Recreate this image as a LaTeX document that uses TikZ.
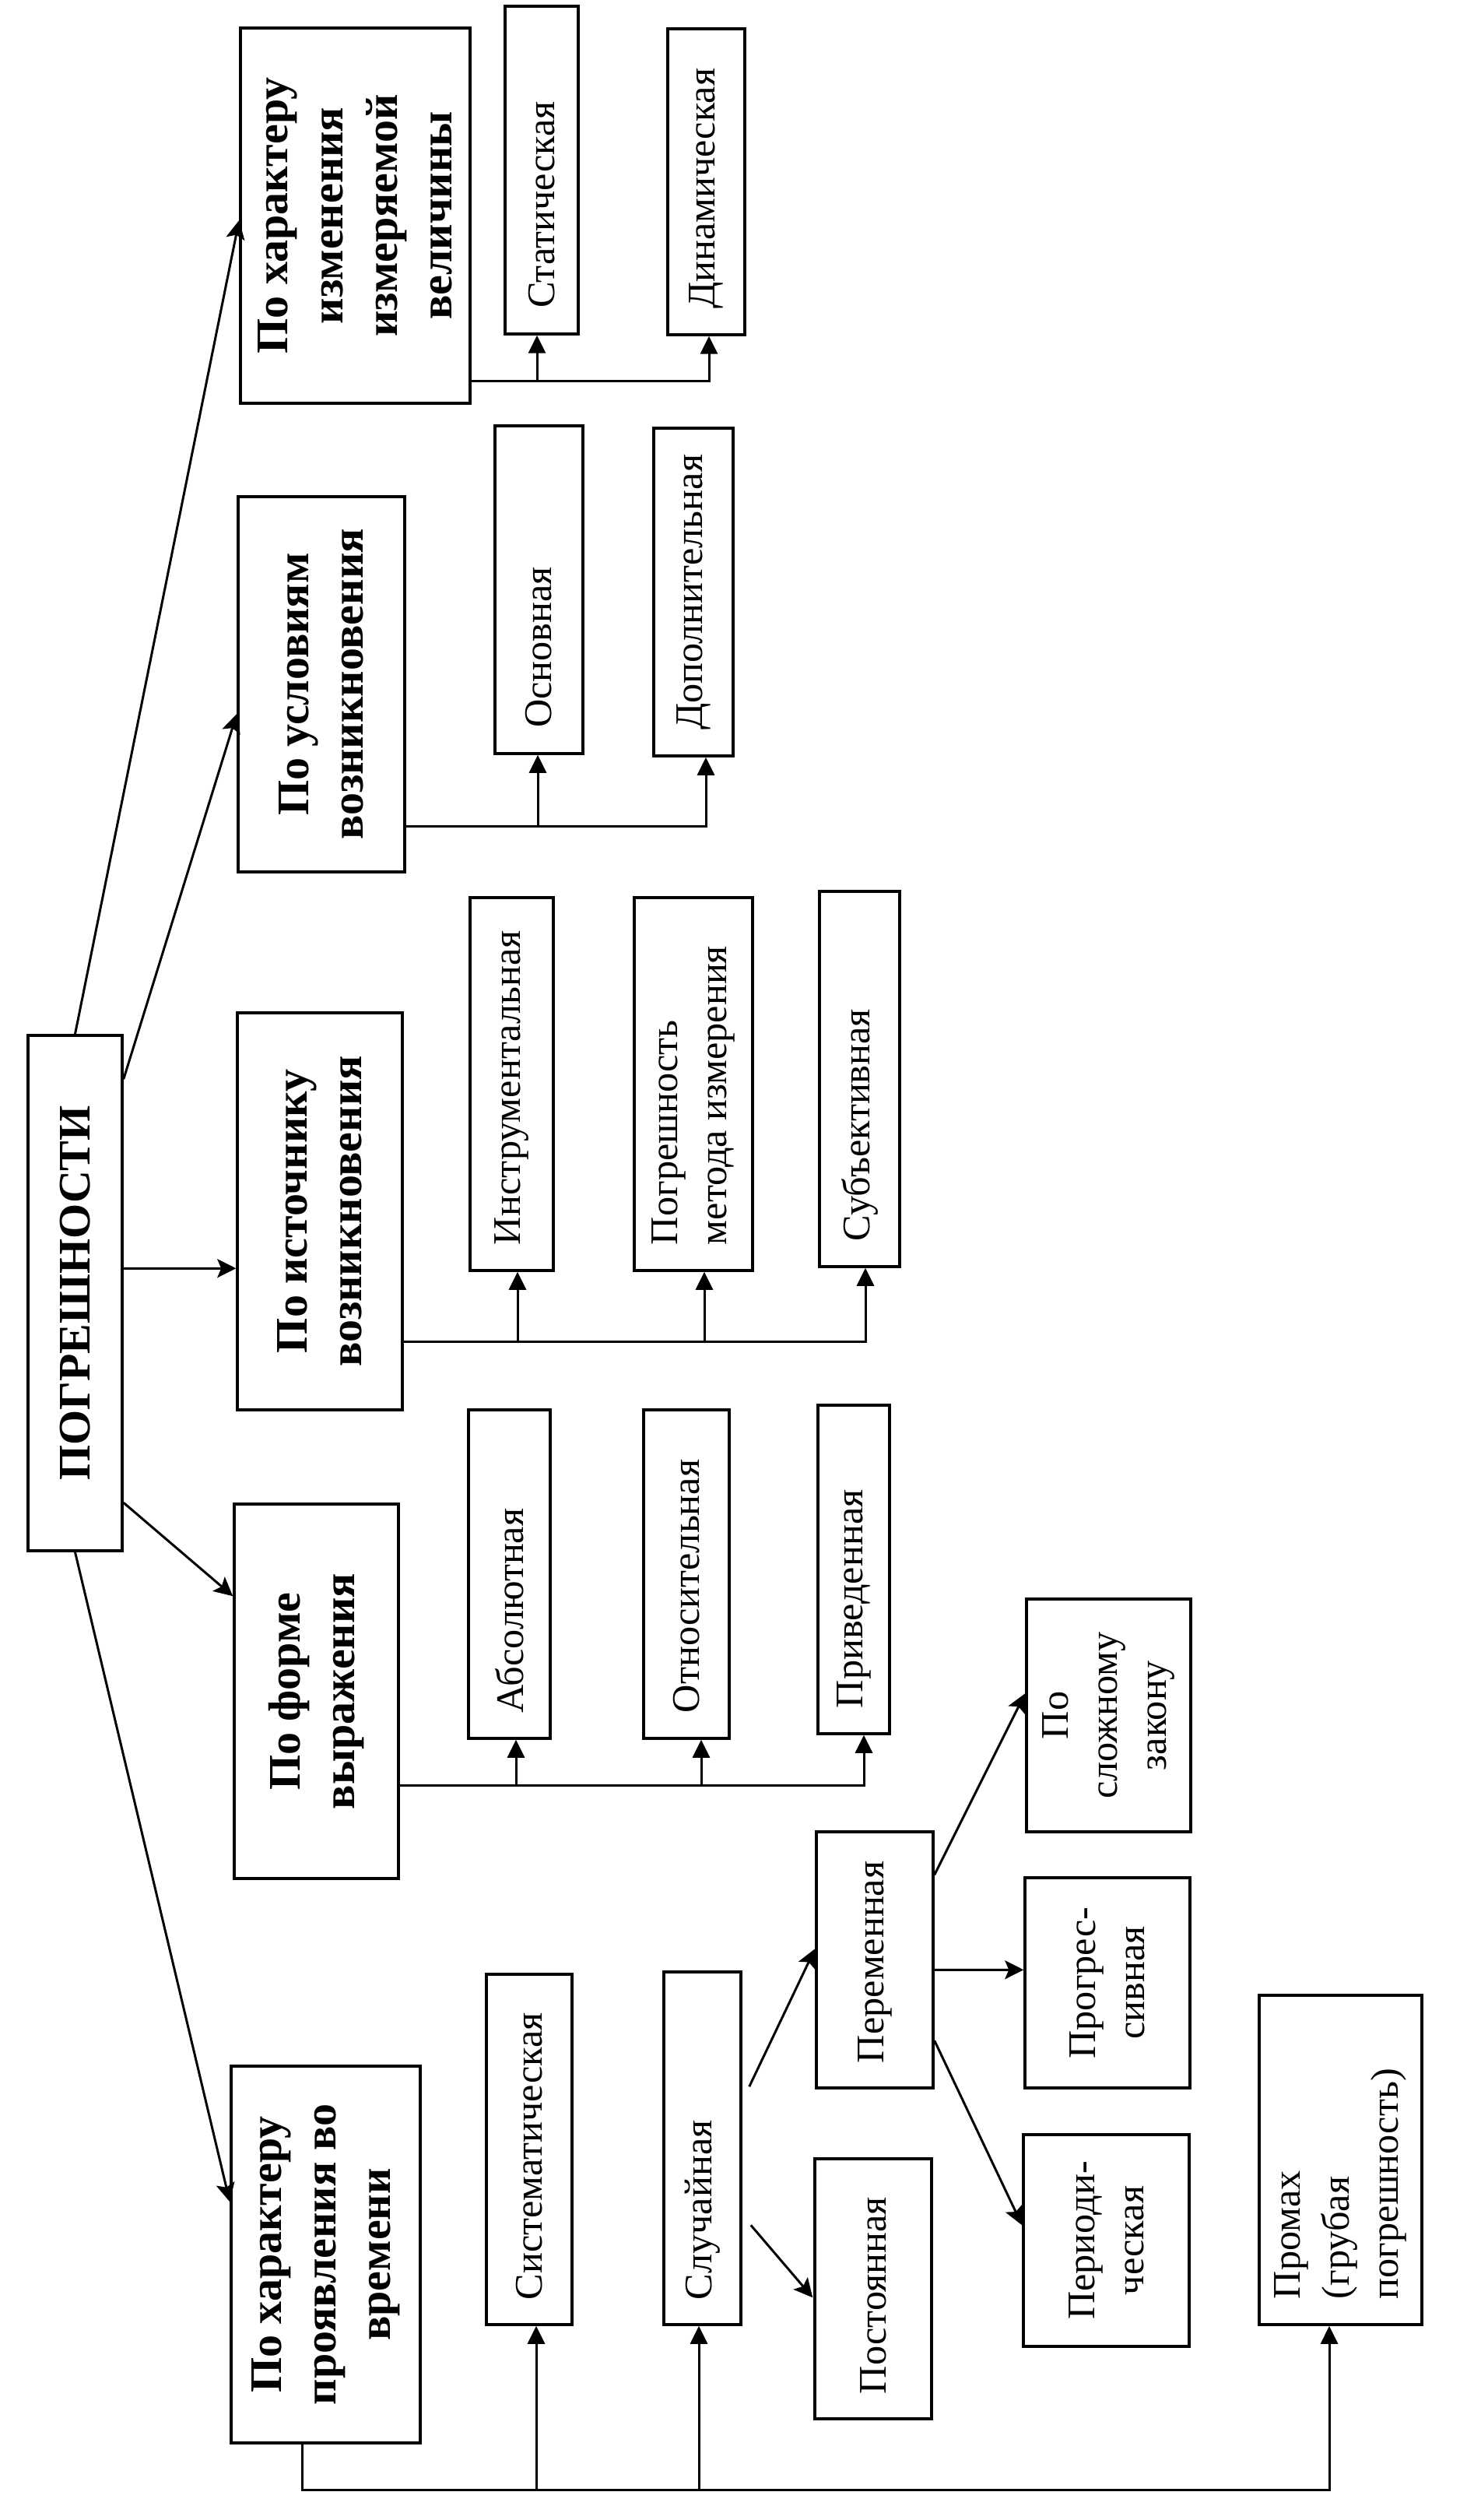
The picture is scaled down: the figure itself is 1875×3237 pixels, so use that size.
\documentclass[tikz,border=0pt]{standalone}
\usepackage{fontspec}
\setmainfont{Liberation Serif}
\usepackage{graphicx}
\usetikzlibrary{arrows.meta,calc}
\newcommand\vtl[2]{\rotatebox{90}{\parbox{#1}{\raggedright #2}}}
\newcommand\vtc[2]{\rotatebox{90}{\parbox{#1}{\centering #2}}}
\newcommand\regf{\fontsize{14.3}{18}\selectfont}
\newcommand\boldf{\fontsize{16.5}{20}\selectfont\bfseries}
\begin{document}
\begin{tikzpicture}[x=0.1mm,y=-0.1mm,
  box/.style={draw,line width=1pt,inner sep=0pt},
  ln/.style={line width=0.85pt},
  arr/.style={line width=0.85pt,-{Stealth[length=2.4mm,width=2.4mm,inset=0.5mm]}},
  uparr/.style={line width=0.85pt,-{Triangle[length=2.3mm,width=2.2mm]}}]
\useasboundingbox (0,0) rectangle (1875,3237);
% root
\node[box,minimum width=12.1mm,minimum height=66.2mm] (root) at (96.5,1661) {\rotatebox{90}{\boldf ПОГРЕШНОСТИ}};
% level 1
\node[box,minimum width=29.5mm,minimum height=48.2mm] (b1) at (456.5,277) {\vtc{44mm}{\boldf По характеру\\изменения\\измеряемой\\величины}};
\node[box,minimum width=21.4mm,minimum height=48.2mm] (b2) at (413,879) {\vtc{44mm}{\boldf По условиям\\возникновения}};
\node[box,minimum width=21.2mm,minimum height=51.0mm] (b3) at (411,1556) {\vtc{46mm}{\boldf По источнику\\возникновения}};
\node[box,minimum width=21.1mm,minimum height=48.1mm] (b4) at (406.5,2172.5) {\vtc{44mm}{\boldf По форме\\выражения}};
\node[box,minimum width=24.3mm,minimum height=48.4mm] (b5) at (418.5,2896) {\vtc{44mm}{\boldf По характеру\\проявления во\\времени}};
% children group 1
\node[box,minimum width=9.4mm,minimum height=42.1mm] (stat) at (696,218.5) {\vtl{35.5mm}{\regf Статическая}};
\node[box,minimum width=9.9mm,minimum height=39.3mm] (dyn) at (907.5,233.5) {\vtl{32.7mm}{\regf Динамическая}};
% group 2
\node[box,minimum width=11.3mm,minimum height=42.1mm] (osn) at (692.5,757.5) {\vtl{35.5mm}{\regf Основная}};
\node[box,minimum width=10.2mm,minimum height=42.1mm] (dop) at (891,760.5) {\vtl{35.5mm}{\regf Дополнительная}};
% group 3
\node[box,minimum width=10.7mm,minimum height=47.9mm] (instr) at (657.5,1392.5) {\vtl{41.3mm}{\regf Инструментальная}};
\node[box,minimum width=15.2mm,minimum height=47.9mm] (metod) at (891,1392.5) {\vtl{41.3mm}{\regf Погрешность\\метода измерения}};
\node[box,minimum width=10.3mm,minimum height=48.2mm] (subj) at (1104.5,1386) {\vtl{41.6mm}{\regf Субъективная}};
% group 4
\node[box,minimum width=10.5mm,minimum height=42.2mm] (abs) at (654.5,2022) {\vtl{35.6mm}{\regf Абсолютная}};
\node[box,minimum width=11.0mm,minimum height=42.2mm] (otn) at (882,2022) {\vtl{35.6mm}{\regf Относительная}};
\node[box,minimum width=9.2mm,minimum height=42.2mm] (priv) at (1097,2016) {\vtl{35.6mm}{\regf Приведенная}};
% group 5
\node[box,minimum width=11.0mm,minimum height=45.0mm] (sist) at (680,2761) {\vtl{38.6mm}{\regf Систематическая}};
\node[box,minimum width=9.9mm,minimum height=45.3mm] (sluch) at (902.5,2759.5) {\vtl{38.9mm}{\regf Случайная}};
\node[box,minimum width=15.0mm,minimum height=32.9mm] (perem) at (1124,2517.5) {\vtl{26.5mm}{\regf Переменная}};
\node[box,minimum width=15.0mm,minimum height=33.4mm] (post) at (1122,2940) {\vtl{27.0mm}{\regf Постоянная}};
\node[box,minimum width=21.1mm,minimum height=29.9mm] (slozh) at (1424.5,2203.5) {\vtc{26mm}{\regf По\\сложному\\закону}};
\node[box,minimum width=21.2mm,minimum height=27.0mm] (progr) at (1423,2547) {\vtc{24mm}{\regf Прогрес-\\сивная}};
\node[box,minimum width=21.3mm,minimum height=27.2mm] (period) at (1421.5,2878) {\vtc{24mm}{\regf Периоди-\\ческая}};
\node[box,minimum width=20.9mm,minimum height=42.3mm] (promah) at (1722.5,2774.5) {\vtl{35.7mm}{\regf Промах\\(грубая\\погрешность)}};
% root arrows
\draw[arr] (root.north) -- ($(b1.west)+(0,6)$);
\draw[arr] ($(root.north east)+(0,58)$) -- ($(b2.west)+(0,38)$);
\draw[arr] ($(root.north east)+(0,301)$) -- ($(b3.north west)+(0,330)$);
\draw[arr] ($(root.north east)+(0,602)$) -- ($(b4.north west)+(0,120)$);
\draw[arr] (root.south) -- ($(b5.north west)+(0,176)$);
% bus 1
\coordinate (bus1) at ($(b1.south east)+(0,-30)$);
\coordinate (a-stat) at ($(stat.south)+(-6,0)$);
\coordinate (a-dyn) at ($(dyn.south)+(3.5,0)$);
\draw[uparr] (bus1) -| (a-dyn);
\draw[uparr] (bus1 -| a-stat) -- (a-stat);
% bus 2
\coordinate (bus2) at ($(b2.south east)+(0,-60)$);
\coordinate (a-osn) at ($(osn.south)+(-1.5,0)$);
\coordinate (a-dop) at ($(dop.south)+(16,0)$);
\draw[uparr] (bus2) -| (a-dop);
\draw[uparr] (bus2 -| a-osn) -- (a-osn);
% bus 3
\coordinate (bus3) at ($(b3.south east)+(0,-89)$);
\coordinate (a-instr) at ($(instr.south)+(7.5,0)$);
\coordinate (a-metod) at ($(metod.south)+(14,0)$);
\coordinate (a-subj) at ($(subj.south)+(7.5,0)$);
\draw[uparr] (bus3) -| (a-subj);
\draw[uparr] (bus3 -| a-instr) -- (a-instr);
\draw[uparr] (bus3 -| a-metod) -- (a-metod);
% bus 4
\coordinate (bus4) at ($(b4.south east)+(0,-121)$);
\coordinate (a-abs) at ($(abs.south)+(8.5,0)$);
\coordinate (a-otn) at ($(otn.south)+(19,0)$);
\coordinate (a-priv) at ($(priv.south)+(13,0)$);
\draw[uparr] (bus4) -| (a-priv);
\draw[uparr] (bus4 -| a-abs) -- (a-abs);
\draw[uparr] (bus4 -| a-otn) -- (a-otn);
% bus 5
\coordinate (b5out) at ($(b5.south)+(-30.5,0)$);
\coordinate (bus5) at ($(b5.south)+(-30.5,59)$);
\coordinate (a-sist) at ($(sist.south)+(9,0)$);
\coordinate (a-sluch) at ($(sluch.south)+(-4.5,0)$);
\coordinate (a-promah) at ($(promah.south)+(-14.5,0)$);
\draw[uparr] (b5out) -- (bus5) -| (a-promah);
\draw[uparr] (bus5 -| a-sist) -- (a-sist);
\draw[uparr] (bus5 -| a-sluch) -- (a-sluch);
% random / variable branches
\draw[arr] ($(sluch.north east)+(9,149)$) -- ($(perem.north west)+(0,152)$);
\draw[arr] ($(sluch.north east)+(11,327)$) -- ($(post.north west)+(-1,180)$);
\draw[arr] ($(perem.north east)+(0,57)$) -- ($(slozh.north west)+(0,123)$);
\draw[arr] ($(perem.north east)+(0,179)$) -- ($(progr.north west)+(0,120)$);
\draw[arr] ($(perem.north east)+(0,270)$) -- ($(period.north west)+(0,118)$);
\end{tikzpicture}
\end{document}
